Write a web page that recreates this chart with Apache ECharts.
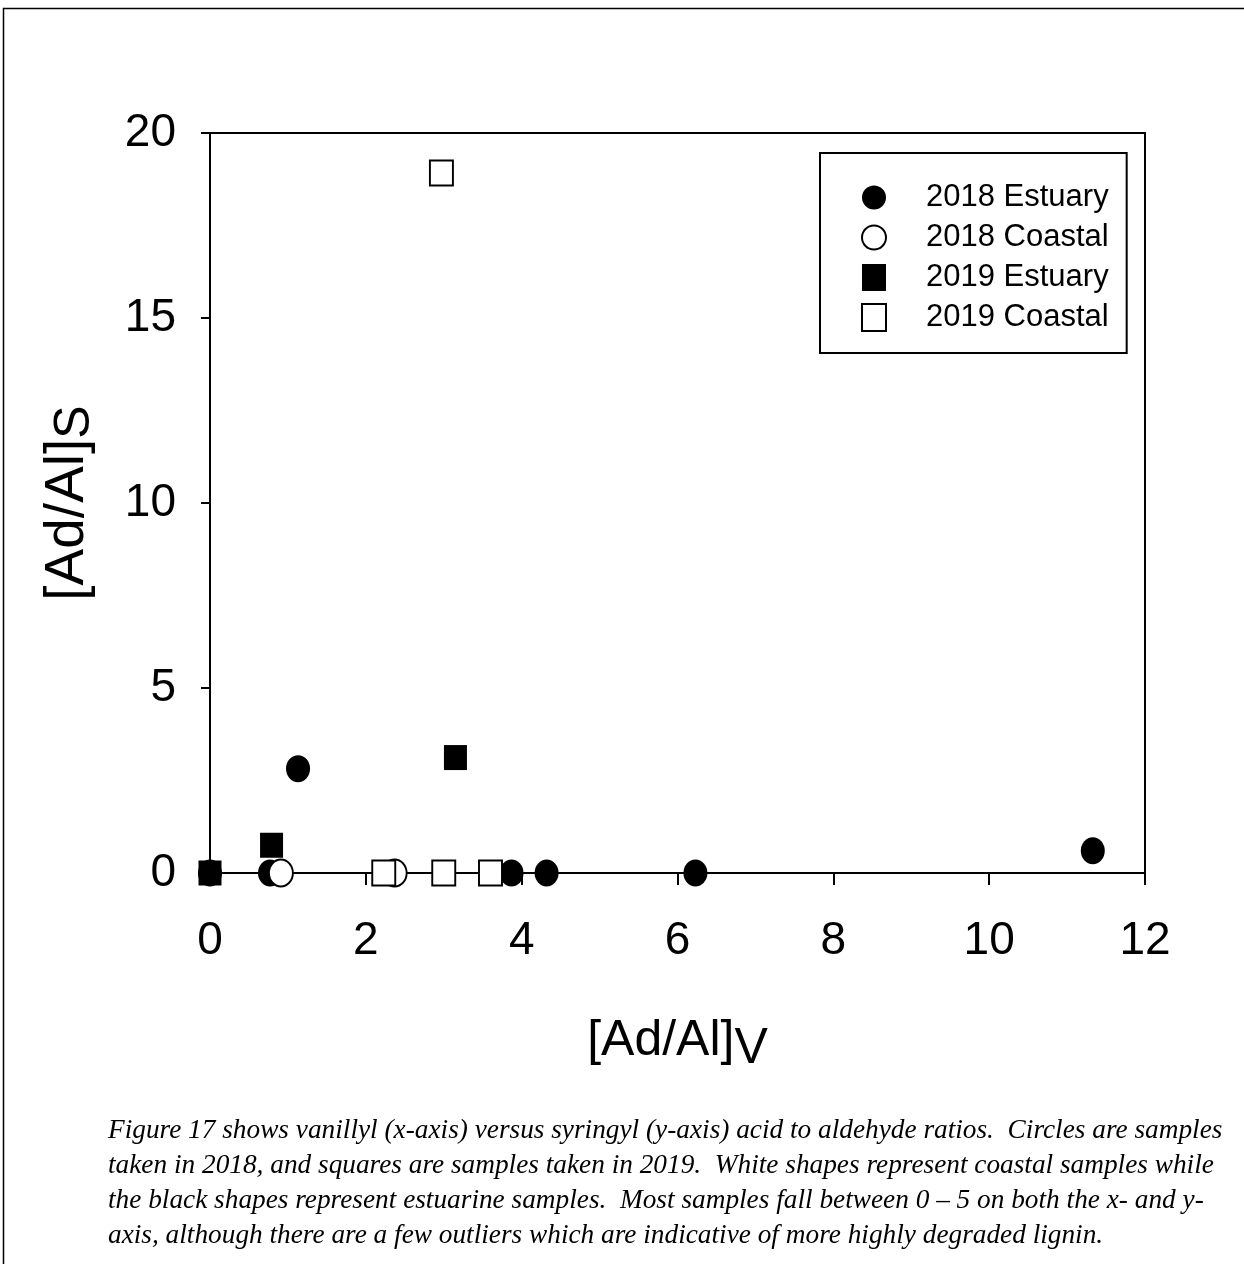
<!DOCTYPE html>
<html>
<head>
<meta charset="utf-8">
<script src="https://cdn.jsdelivr.net/npm/echarts@6/dist/echarts.min.js"></script>
<style>
html,body{margin:0;padding:0;background:#fff;}
#chart{width:1244px;height:1264px;}
</style>
</head>
<body>
<div id="chart"></div>
<script>
// ---- data ----
const seriesNames = ['2018 Estuary', '2018 Coastal', '2019 Estuary', '2019 Coastal'];
const estuary2018 = [[0, 0], [0.77, 0], [1.13, 2.82], [3.87, 0], [4.32, 0], [6.23, 0], [11.33, 0.6]];
const coastal2018 = [[0.91, 0], [2.37, 0]];
const estuary2019 = [[0, 0], [0.79, 0.75], [3.15, 3.12]];
const coastal2019 = [[2.23, 0], [3.0, 0], [3.6, 0], [2.97, 18.92]];
const xTicks = { min: 0, max: 12, interval: 2 };
const yTicks = { min: 0, max: 20, interval: 5 };
const captionLines = [
  'Figure 17 shows vanillyl (x-axis) versus syringyl (y-axis) acid to aldehyde ratios.  Circles are samples',
  'taken in 2018, and squares are samples taken in 2019.  White shapes represent coastal samples while',
  'the black shapes represent estuarine samples.  Most samples fall between 0 \u2013 5 on both the x- and y-',
  'axis, although there are a few outliers which are indicative of more highly degraded lignin.'
];

const chart = echarts.init(document.getElementById('chart'), null, { renderer: 'canvas' });
const sans = 'Liberation Sans, Arial, sans-serif';
const axisLine = { show: true, lineStyle: { color: '#000', width: 2 } };

const CIRCLE = [24, 27];
const SQUARE = [23, 25];

const captionGraphics = captionLines.map((t, i) => ({
  type: 'text', left: 108, top: 1117 + i * 35,
  style: { text: t, font: 'italic 27.3px "Liberation Serif", "Times New Roman", serif', fill: '#000' }
}));

chart.setOption({
  animation: false,
  backgroundColor: '#fff',
  grid: { left: 210, top: 133, width: 935, height: 740, show: true, borderColor: '#000', borderWidth: 2, backgroundColor: 'transparent' },
  xAxis: {
    type: 'value', min: xTicks.min, max: xTicks.max, interval: xTicks.interval,
    axisLine: axisLine,
    axisTick: { show: true, inside: false, length: 12, lineStyle: { color: '#000', width: 2 } },
    splitLine: { show: false },
    axisLabel: { color: '#000', fontFamily: sans, fontSize: 46, margin: 45 },
    name: '{a|[Ad/Al]}{b|V}', nameLocation: 'middle', nameGap: 143,
    nameTextStyle: {
      rich: {
        a: { fontFamily: sans, fontSize: 50, color: '#000', verticalAlign: 'top', lineHeight: 60 },
        b: { fontFamily: sans, fontSize: 50, color: '#000', verticalAlign: 'top', lineHeight: 60, padding: [8, 0, 0, 0] }
      }
    }
  },
  yAxis: {
    type: 'value', min: yTicks.min, max: yTicks.max, interval: yTicks.interval,
    axisLine: axisLine,
    axisTick: { show: true, inside: false, length: 9, lineStyle: { color: '#000', width: 2 } },
    splitLine: { show: false },
    axisLabel: { color: '#000', fontFamily: sans, fontSize: 46, margin: 34 },
    name: '{a|[Ad/Al]}{b|S}', nameLocation: 'middle', nameGap: 110, nameRotate: 90,
    nameTextStyle: {
      rich: {
        a: { fontFamily: sans, fontSize: 55, color: '#000', verticalAlign: 'top', lineHeight: 60 },
        b: { fontFamily: sans, fontSize: 50, color: '#000', verticalAlign: 'top', lineHeight: 60, padding: [10, 0, 0, 0] }
      }
    }
  },
  legend: {
    orient: 'vertical', left: 820, top: 153,
    padding: [29, 18, 20, 41],
    borderColor: '#000', borderWidth: 2, backgroundColor: '#fff',
    itemWidth: 24, itemHeight: 27, itemGap: 9,
    textStyle: { fontFamily: sans, fontSize: 31, lineHeight: 31, color: '#000', padding: [0, 0, 0, 35] },
    data: [
      { name: seriesNames[0], icon: 'circle' },
      { name: seriesNames[1], icon: 'circle' },
      { name: seriesNames[2], icon: 'rect' },
      { name: seriesNames[3], icon: 'rect' }
    ]
  },
  graphic: [
    { type: 'rect', shape: { x: 3.5, y: 8.5, width: 1300, height: 1300 }, style: { fill: 'none', stroke: '#000', lineWidth: 1.5 }, z: -10, silent: true }
  ].concat(captionGraphics),
  series: [
    { name: seriesNames[0], type: 'scatter', data: estuary2018, symbol: 'circle', symbolSize: CIRCLE,
      itemStyle: { color: '#000', borderColor: '#000', borderWidth: 0, opacity: 1 } },
    { name: seriesNames[1], type: 'scatter', data: coastal2018, symbol: 'circle', symbolSize: CIRCLE,
      itemStyle: { color: '#fff', borderColor: '#000', borderWidth: 2, opacity: 1 } },
    { name: seriesNames[2], type: 'scatter', data: estuary2019, symbol: 'rect', symbolSize: SQUARE,
      itemStyle: { color: '#000', borderColor: '#000', borderWidth: 0, opacity: 1 } },
    { name: seriesNames[3], type: 'scatter', data: coastal2019, symbol: 'rect', symbolSize: SQUARE,
      itemStyle: { color: '#fff', borderColor: '#000', borderWidth: 2, opacity: 1 } }
  ]
});
</script>
</body>
</html>
